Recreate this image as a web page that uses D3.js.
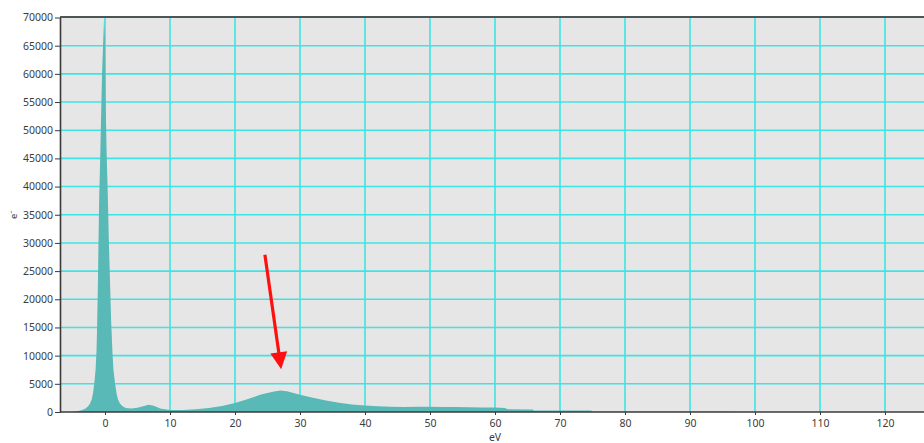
<!DOCTYPE html>
<html>
<head>
<meta charset="utf-8">
<script src="https://cdn.jsdelivr.net/npm/d3@7"></script>
<style>
  html, body { margin: 0; padding: 0; background: #ffffff; }
  svg { display: block; }
</style>
</head>
<body>
<svg id="chart" width="924" height="443"></svg>
<script>
// Electron energy-loss spectrum: energy loss (eV) vs. counts (e-)
const energy = [
  -5.0, -4.8, -4.6, -4.0, -3.5, -3.0, -2.6, -2.3, -2.05, -1.85, -1.65, -1.45, -1.3, -1.2,
  -1.1, -1.0, -0.9, -0.7, -0.55, -0.45, -0.3, -0.15, 0.0, 0.05, 0.1, 0.25, 0.45, 0.6,
  0.8, 0.95, 1.15, 1.3, 1.55, 1.8, 2.0, 2.3, 2.7, 3.2, 4.0, 5.0, 6.0, 6.7, 7.5, 8.5,
  10, 12, 14, 16, 18, 20, 22, 24, 26, 27, 28, 30, 32, 34, 36, 38, 40, 42, 44, 46,
  48, 50, 52, 54, 56, 58, 60, 61.5, 62, 65.8, 66, 74.8, 75, 96.5, 97
];
const counts = [
  0, 50, 100, 200, 350, 600, 1000, 1500, 2200, 3300, 5000, 7500, 11000, 16000,
  22000, 30000, 37600, 47000, 55000, 60000, 65000, 69700, 66000, 60000, 55000, 46000, 37600, 30000,
  22000, 16000, 10500, 7500, 5000, 3200, 2200, 1500, 1000, 700, 600, 750, 1050, 1300, 1100, 600,
  350, 350, 480, 700, 1050, 1600, 2300, 3100, 3650, 3800, 3700, 3050, 2550, 2050, 1650, 1350, 1150, 1000, 950, 900,
  950, 950, 900, 900, 850, 800, 780, 700, 500, 450, 280, 250, 60, 40, 0
];

const xTicks = [0, 10, 20, 30, 40, 50, 60, 70, 80, 90, 100, 110, 120];
const yTicks = [0, 5000, 10000, 15000, 20000, 25000, 30000, 35000, 40000, 45000, 50000, 55000, 60000, 65000, 70000];

// Annotation arrow pointing at the plasmon peak (data units)
const arrowFrom = [24.6, 27900];
const arrowTo = [27.1, 7600];

const svg = d3.select("#chart");
const W = 924, H = 443;
const plotL = 60, plotT = 17.5, plotB = 412, plotR = W;

const x = d3.scaleLinear().domain([0, 120]).range([105, 885]);
const y = d3.scaleLinear().domain([0, 70000]).range([plotB, plotT]);

svg.append("defs").append("clipPath").attr("id", "plotClip")
  .append("rect").attr("x", plotL).attr("y", plotT).attr("width", plotR - plotL).attr("height", plotB - plotT);

// plot background
svg.append("rect")
  .attr("x", plotL).attr("y", plotT).attr("width", plotR - plotL).attr("height", plotB - plotT)
  .attr("fill", "#e6e6e6");

const plot = svg.append("g").attr("clip-path", "url(#plotClip)");

// grid
const gridColor = "#3ee4e4";
plot.append("g").selectAll("line").data(d3.range(-10, 140, 10)).join("line")
  .attr("x1", d => x(d)).attr("x2", d => x(d))
  .attr("y1", plotT).attr("y2", plotB)
  .attr("stroke", gridColor).attr("stroke-width", 1.6);
plot.append("g").selectAll("line").data(yTicks.filter(v => v > 0 && v < 70000)).join("line")
  .attr("x1", plotL).attr("x2", plotR)
  .attr("y1", d => y(d)).attr("y2", d => y(d))
  .attr("stroke", gridColor).attr("stroke-width", 1.6);

// spectrum
const series = energy.map((e, i) => ({ e, c: counts[i] }));
const area = d3.area()
  .x(d => x(d.e))
  .y0(y(0))
  .y1(d => y(d.c))
  .curve(d3.curveLinear);
plot.append("path").datum(series)
  .attr("d", area)
  .attr("fill", "#58b9b6");

// frame: top border
svg.append("line")
  .attr("x1", plotL).attr("x2", plotR).attr("y1", plotT - 0.5).attr("y2", plotT - 0.5)
  .attr("stroke", "#4c5656").attr("stroke-width", 2);

// axes
const axisColor = "#3a3a3a";
const yAxis = svg.append("g")
  .attr("transform", `translate(${plotL},0)`)
  .call(d3.axisLeft(y).tickValues(yTicks).tickSize(5).tickSizeOuter(0).tickPadding(2).tickFormat(d3.format("d")));
const xAxis = svg.append("g")
  .attr("transform", `translate(0,${plotB})`)
  .call(d3.axisBottom(x).tickValues(xTicks).tickSize(3).tickSizeOuter(0).tickPadding(5).tickFormat(d3.format("d")));
[yAxis, xAxis].forEach(g => {
  g.select(".domain").attr("stroke", axisColor).attr("stroke-width", 1.6);
  g.selectAll(".tick line").attr("stroke", axisColor);
  g.selectAll("text")
    .attr("fill", "#3c3c3c")
    .style("font-family", "'Noto Sans', 'DejaVu Sans', sans-serif")
    .style("font-size", "10.5px");
});
xAxis.select(".domain").attr("d", `M${plotL},0H${plotR}`);

// axis titles
svg.append("text")
  .attr("x", x(60)).attr("y", 441)
  .attr("text-anchor", "middle")
  .style("font-family", "'Noto Sans', 'DejaVu Sans', sans-serif")
  .style("font-size", "10.5px")
  .attr("fill", "#3c3c3c")
  .text("eV");
svg.append("text")
  .attr("transform", `translate(17,${(plotT + plotB) / 2}) rotate(-90)`)
  .attr("text-anchor", "middle")
  .style("font-family", "'Noto Sans', 'DejaVu Sans', sans-serif")
  .style("font-size", "9.5px")
  .attr("fill", "#3c3c3c")
  .text("e⁻");

// annotation arrow
const ax0 = x(arrowFrom[0]), ay0 = y(arrowFrom[1]);
const ax1 = x(arrowTo[0]), ay1 = y(arrowTo[1]);
const ang = Math.atan2(ay1 - ay0, ax1 - ax0);
const headLen = 17, headHalf = 8.5;
const bx = ax1 - headLen * Math.cos(ang), by = ay1 - headLen * Math.sin(ang);
const px = -Math.sin(ang), py = Math.cos(ang);
svg.append("line")
  .attr("x1", ax0).attr("y1", ay0).attr("x2", bx + Math.cos(ang)).attr("y2", by + Math.sin(ang))
  .attr("stroke", "#ff1010").attr("stroke-width", 3.2);
svg.append("path")
  .attr("d", `M${ax1},${ay1}L${bx + headHalf * px},${by + headHalf * py}L${bx - headHalf * px},${by - headHalf * py}Z`)
  .attr("fill", "#ff1010");
</script>
</body>
</html>
